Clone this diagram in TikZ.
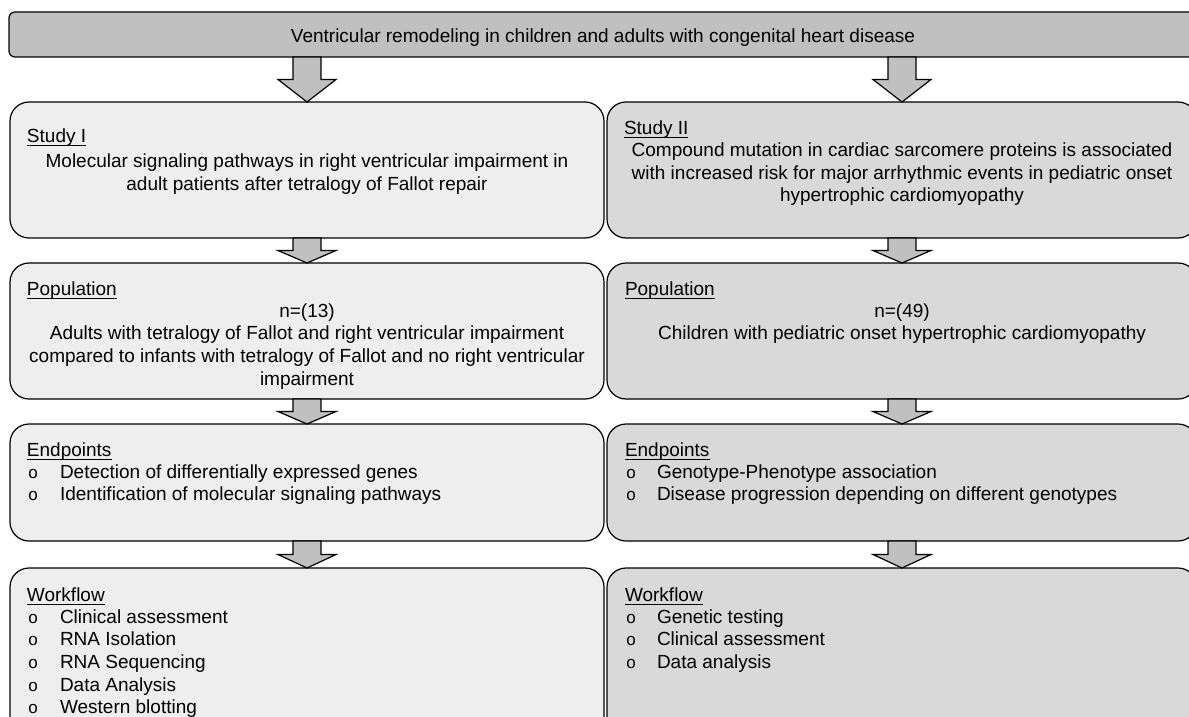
\documentclass[tikz,border=0pt]{standalone}
\usepackage{fontspec}
\setmainfont{Liberation Sans}
\usetikzlibrary{calc}
\definecolor{topfill}{HTML}{C0C0C0}
\definecolor{lfill}{HTML}{EEEEEE}
\definecolor{rfill}{HTML}{D9D9D9}
\definecolor{afill}{HTML}{C0C0C0}
\newcommand{\hul}[1]{\setbox0\hbox{#1}\rlap{\raisebox{-4.2pt}{\rule{\wd0}{1.3pt}}}\box0}
\tikzset{
  box/.style={draw=black, line width=1.2pt, rounded corners=19pt, anchor=north west, inner sep=0pt, outer sep=0pt},
  topbox/.style={box, rounded corners=6pt, fill=topfill, minimum width=1188pt, minimum height=45pt},
  lbox/.style={box, fill=lfill, minimum width=594pt},
  rbox/.style={box, fill=rfill, minimum width=590pt},
  txt/.style={font=\fontsize{19}{22.7}\selectfont, inner sep=0pt, outer sep=0pt, anchor=base},
  txtl/.style={txt, anchor=base west},
  bul/.style={font=\fontsize{17}{20}\selectfont, inner sep=0pt, outer sep=0pt, anchor=base},
  barrow/.style={draw=black, line width=1.2pt, fill=afill, line join=miter},
}
\newcommand{\blockarr}[2]{%
  \coordinate (bam) at ($(#1)!0.5!(#2)$);
  \path (#1 |- bam) coordinate (bamc);
  \draw[barrow] ([xshift=-14pt]#1) -- ([xshift=-14pt]bamc) -- ([xshift=-29pt]bamc)
    -- (#2) -- ([xshift=29pt]bamc) -- ([xshift=14pt]bamc) -- ([xshift=14pt]#1) -- cycle;
}
\begin{document}
\begin{tikzpicture}[x=1pt,y=-1pt]
\useasboundingbox (0,0) rectangle (1189,717);
\clip (0,0) rectangle (1189,717);
% boxes
\node[topbox] (top) at (9,12) {};
\node[lbox, minimum height=136pt] (s1) at (10,102) {};
\node[rbox, minimum height=136pt] (s2) at (607,102) {};
\node[lbox, minimum height=136pt] (p1) at (10,263) {};
\node[rbox, minimum height=136pt] (p2) at (607,263) {};
\node[lbox, minimum height=117pt] (e1) at (10,424) {};
\node[rbox, minimum height=117pt] (e2) at (607,424) {};
\node[lbox, minimum height=180pt] (w1) at (10,568) {};
\node[rbox, minimum height=180pt] (w2) at (607,568) {};
% arrows
\coordinate (t1) at (top.south -| s1.north);
\coordinate (t2) at (top.south -| s2.north);
\blockarr{t1}{s1.north}
\blockarr{t2}{s2.north}
\blockarr{s1.south}{p1.north}
\blockarr{s2.south}{p2.north}
\blockarr{p1.south}{e1.north}
\blockarr{p2.south}{e2.north}
\blockarr{e1.south}{w1.north}
\blockarr{e2.south}{w2.north}
% texts
\node[txt] (ttop) at (603,43) {Ventricular remodeling in children and adults with congenital heart disease};
% Study I
\node[txtl] (hs1) at (27,142) {\hul{Study I}};
\node[txt] (s1a) at (307,167) {Molecular signaling pathways in right ventricular impairment in};
\node[txt] (s1b) at (307,190) {adult patients after tetralogy of Fallot repair};
% Study II
\node[txtl] (hs2) at (624,134) {\hul{Study II}};
\node[txt] (s2a) at (902,156) {Compound mutation in cardiac sarcomere proteins is associated};
\node[txt] (s2b) at (902,179) {with increased risk for major arrhythmic events in pediatric onset};
\node[txt] (s2c) at (902,201) {hypertrophic cardiomyopathy};
% Population I
\node[txtl] (hp1) at (27,295) {\hul{Population}};
\node[txt] (p1n) at (307,317) {n=(13)};
\node[txt] (p1a) at (307,339) {Adults with tetralogy of Fallot and right ventricular impairment};
\node[txt] (p1b) at (307,362) {compared to infants with tetralogy of Fallot and no right ventricular};
\node[txt] (p1c) at (307,385) {impairment};
% Population II
\node[txtl] (hp2) at (625,295) {\hul{Population}};
\node[txt] (p2n) at (902,317) {n=(49)};
\node[txt] (p2a) at (902,339) {Children with pediatric onset hypertrophic cardiomyopathy};
% Endpoints I
\node[txtl] (he1) at (27,456) {\hul{Endpoints}};
\node[bul] (e1o1) at (33,478) {o};
\node[txtl] (e1a) at (60,478) {Detection of differentially expressed genes};
\node[bul] (e1o2) at (33,500) {o};
\node[txtl] (e1b) at (60,500) {Identification of molecular signaling pathways};
% Endpoints II
\node[txtl] (he2) at (625,456) {\hul{Endpoints}};
\node[bul] (e2o1) at (631,478) {o};
\node[txtl] (e2a) at (657,478) {Genotype-Phenotype association};
\node[bul] (e2o2) at (631,500) {o};
\node[txtl] (e2b) at (657,500) {Disease progression depending on different genotypes};
% Workflow I
\node[txtl] (hw1) at (27,601) {\hul{Workflow}};
\node[bul] (w1o1) at (33,623) {o};
\node[txtl] (w1a) at (60,623) {Clinical assessment};
\node[bul] (w1o2) at (33,645.7) {o};
\node[txtl] (w1b) at (60,645.7) {RNA Isolation};
\node[bul] (w1o3) at (33,668.4) {o};
\node[txtl] (w1c) at (60,668.4) {RNA Sequencing};
\node[bul] (w1o4) at (33,691.1) {o};
\node[txtl] (w1d) at (60,691.1) {Data Analysis};
\node[bul] (w1o5) at (33,713.8) {o};
\node[txtl] (w1e) at (60,713.8) {Western blotting};
% Workflow II
\node[txtl] (hw2) at (625,601) {\hul{Workflow}};
\node[bul] (w2o1) at (631,623) {o};
\node[txtl] (w2a) at (657,623) {Genetic testing};
\node[bul] (w2o2) at (631,645.7) {o};
\node[txtl] (w2b) at (657,645.7) {Clinical assessment};
\node[bul] (w2o3) at (631,668.4) {o};
\node[txtl] (w2c) at (657,668.4) {Data analysis};
\end{tikzpicture}
\end{document}
